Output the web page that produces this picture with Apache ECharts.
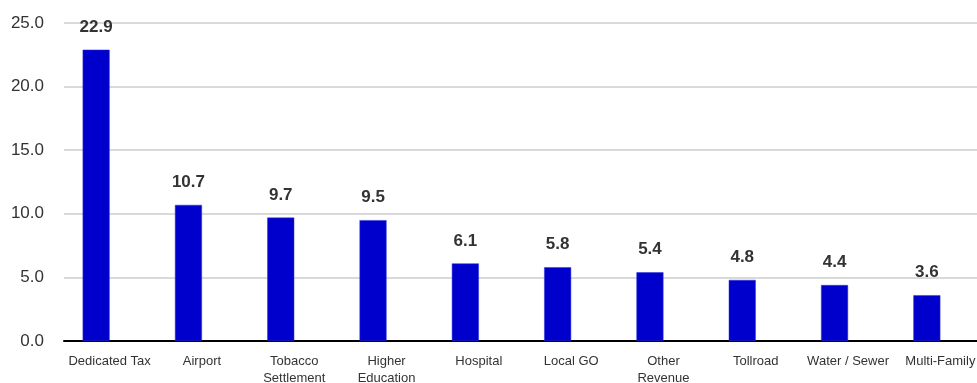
<!DOCTYPE html>
<html>
<head>
<meta charset="utf-8">
<script src="https://cdn.jsdelivr.net/npm/echarts@6/dist/echarts.min.js"></script>
<style>
html, body { margin: 0; padding: 0; background: #fff; }
#chart { width: 977px; height: 383px; }
</style>
</head>
<body>
<div id="chart"></div>
<script>
// 各类别数值
var categories = ['Dedicated Tax', 'Airport', 'Tobacco\nSettlement', 'Higher\nEducation', 'Hospital',
	'Local GO', 'Other\nRevenue', 'Tollroad', 'Water / Sewer', 'Multi-Family'];
var values = [22.9, 10.7, 9.7, 9.5, 6.1, 5.8, 5.4, 4.8, 4.4, 3.6];
var yTicks = [0, 5, 10, 15, 20, 25];

var font = '"Liberation Sans", Arial, sans-serif';
var chart = echarts.init(document.getElementById('chart'));

var option = {
	backgroundColor: '#fff',
	animation: false,
	grid: [
		// 网格线和底部轴线
		{ left: 64, right: 0, top: 23, bottom: 42, outerBoundsMode: 'none' },
		// 柱子用
		{ left: 50, right: 4, top: 23, bottom: 42, outerBoundsMode: 'none' }
	],
	xAxis: [
		{
			gridIndex: 0,
			type: 'value',
			min: 0,
			max: 1,
			axisLine: { show: true, onZero: false, lineStyle: { color: '#000', width: 2 } },
			axisTick: { show: false },
			axisLabel: { show: false },
			splitLine: { show: false }
		},
		{
			gridIndex: 1,
			type: 'category',
			data: categories,
			axisLine: { show: false },
			axisTick: { show: false },
			axisLabel: {
				color: '#333',
				fontFamily: font,
				fontSize: 13,
				lineHeight: 17,
				margin: 12,
				padding: [0, 0, 0, 27], // 标签相对柱子右移
				interval: 0,
				hideOverlap: false
			}
		}
	],
	yAxis: [
		{
			gridIndex: 0,
			type: 'value',
			min: yTicks[0],
			max: yTicks[yTicks.length - 1],
			interval: 5,
			axisLine: { show: false },
			axisTick: { show: false },
			splitLine: { lineStyle: { color: '#cccccc', width: 1.5 } },
			axisLabel: {
				color: '#333',
				fontFamily: font,
				fontSize: 17,
				margin: 20,
				formatter: function (v) { return v.toFixed(1); }
			}
		},
		{
			gridIndex: 1,
			type: 'value',
			min: yTicks[0],
			max: yTicks[yTicks.length - 1],
			interval: 5,
			show: false
		}
	],
	series: [
		{
			type: 'bar',
			xAxisIndex: 1,
			yAxisIndex: 1,
			data: values,
			barWidth: 27,
			z: 1,
			itemStyle: { color: '#0000cc', borderColor: '#3333dd', borderWidth: 0.5 },
			label: {
				show: true,
				position: 'top',
				distance: 14,
				color: '#333',
				fontFamily: font,
				fontWeight: 'bold',
				fontSize: 17,
				formatter: function (p) { return p.value.toFixed(1); }
			}
		}
	]
};
chart.setOption(option);
</script>
</body>
</html>
